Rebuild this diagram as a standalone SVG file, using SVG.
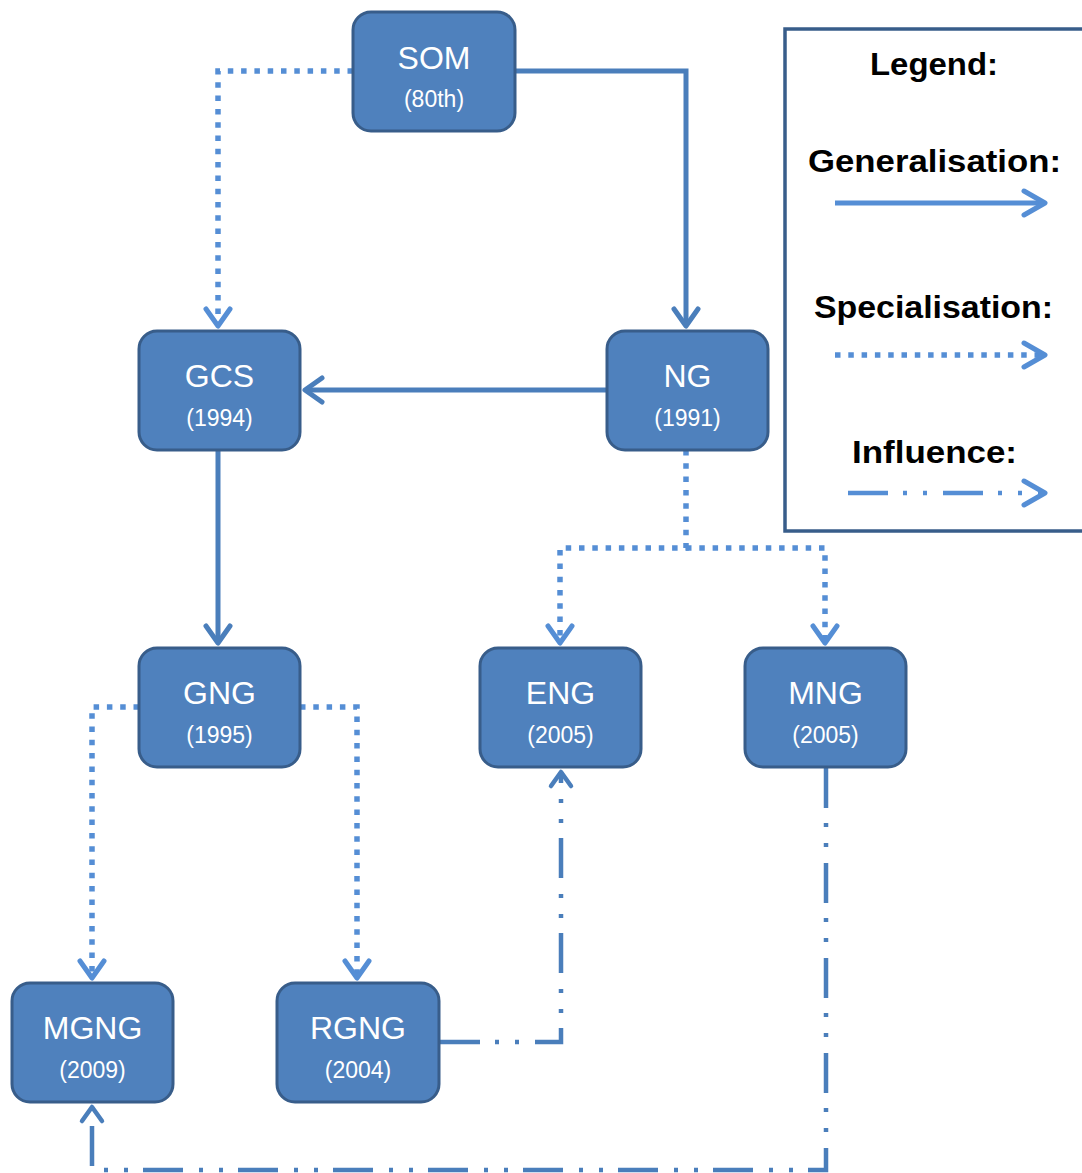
<svg xmlns="http://www.w3.org/2000/svg" width="1082" height="1173" viewBox="0 0 1082 1173">
<style>
.box{fill:#4F81BD;stroke:#385D8A;stroke-width:3}
.t{font-family:"Liberation Sans",Arial,sans-serif;fill:#FFFFFF;text-anchor:middle}
.t1{font-size:32px}
.t2{font-size:23px}
.gen{fill:none;stroke:#4A7EBB;stroke-width:5}
.spe{fill:none;stroke:#558ED5;stroke-width:5.5;stroke-dasharray:5.5 7.8}
.inf{fill:none;stroke:#4A7EBB;stroke-width:4.5;stroke-dasharray:40 15 4 16 4 16}
.lg{font-family:"Liberation Sans",Arial,sans-serif;font-weight:bold;fill:#000000;font-size:31px}
</style>
<defs>
<marker id="aG" viewBox="-24 -16 28 32" refX="0" refY="0" markerWidth="28" markerHeight="32" orient="auto" markerUnits="userSpaceOnUse"><path d="M-17,-12 L0,0 L-17,12" fill="none" stroke="#4A7EBB" stroke-width="5" stroke-linecap="round" stroke-linejoin="round"/></marker>
<marker id="aS" viewBox="-24 -16 28 32" refX="0" refY="0" markerWidth="28" markerHeight="32" orient="auto" markerUnits="userSpaceOnUse"><path d="M-17,-12 L0,0 L-17,12" fill="none" stroke="#558ED5" stroke-width="5" stroke-linecap="round" stroke-linejoin="round"/></marker>
<marker id="aL" viewBox="-24 -16 28 32" refX="0" refY="0" markerWidth="28" markerHeight="32" orient="auto" markerUnits="userSpaceOnUse"><path d="M-21,-12 L0,0 L-21,12" fill="none" stroke="#558ED5" stroke-width="5" stroke-linecap="round" stroke-linejoin="round"/></marker>
<marker id="aI" viewBox="-24 -16 28 32" refX="0" refY="0" markerWidth="28" markerHeight="32" orient="auto" markerUnits="userSpaceOnUse"><path d="M-14,-10 L0,0 L-14,10" fill="none" stroke="#4A7EBB" stroke-width="4.5" stroke-linecap="round" stroke-linejoin="round"/></marker>
</defs>
<rect width="1082" height="1173" fill="#FFFFFF"/>

<g id="connectors">
<path class="spe" d="M353,71 L218,71 L218,326" marker-end="url(#aS)"/>
<path class="gen" d="M515,71 L686,71 L686,326" marker-end="url(#aG)"/>
<path class="gen" d="M607,390 L305,390" marker-end="url(#aG)"/>
<path class="gen" d="M218,450 L218,643" marker-end="url(#aG)"/>
<path class="spe" d="M686,450 L686,548 L560,548 L560,643" marker-end="url(#aS)"/>
<path class="spe" d="M686,548 L825,548 L825,643" marker-end="url(#aS)"/>
<path class="spe" d="M139,707 L92,707 L92,978" marker-end="url(#aS)"/>
<path class="spe" d="M300,707 L357,707 L357,978" marker-end="url(#aS)"/>
<path class="inf" d="M440,1042 L561,1042 L561,772" marker-end="url(#aI)"/>
<path class="inf" d="M826,768 L826,1170 L92,1170 L92,1107" marker-end="url(#aI)"/>
</g>

<g id="node-SOM"><rect class="box" x="353" y="12" width="162" height="119" rx="18"/><text class="t t1" x="434" y="69">SOM</text><text class="t t2" x="434" y="107">(80th)</text></g>
<g id="node-GCS"><rect class="box" x="139" y="331" width="161" height="119" rx="18"/><text class="t t1" x="219.5" y="387">GCS</text><text class="t t2" x="219.5" y="426">(1994)</text></g>
<g id="node-NG"><rect class="box" x="607" y="331" width="161" height="119" rx="18"/><text class="t t1" x="687.5" y="387">NG</text><text class="t t2" x="687.5" y="426">(1991)</text></g>
<g id="node-GNG"><rect class="box" x="139" y="648" width="161" height="119" rx="18"/><text class="t t1" x="219.5" y="704">GNG</text><text class="t t2" x="219.5" y="743">(1995)</text></g>
<g id="node-ENG"><rect class="box" x="480" y="648" width="161" height="119" rx="18"/><text class="t t1" x="560.5" y="704">ENG</text><text class="t t2" x="560.5" y="743">(2005)</text></g>
<g id="node-MNG"><rect class="box" x="745" y="648" width="161" height="119" rx="18"/><text class="t t1" x="825.5" y="704">MNG</text><text class="t t2" x="825.5" y="743">(2005)</text></g>
<g id="node-MGNG"><rect class="box" x="12" y="983" width="161" height="119" rx="18"/><text class="t t1" x="92.5" y="1039">MGNG</text><text class="t t2" x="92.5" y="1078">(2009)</text></g>
<g id="node-RGNG"><rect class="box" x="277" y="983" width="162" height="119" rx="18"/><text class="t t1" x="358" y="1039">RGNG</text><text class="t t2" x="358" y="1078">(2004)</text></g>

<g id="legend">
<rect x="785" y="29" width="310" height="502" fill="#FFFFFF" stroke="#385D8A" stroke-width="3.5"/>
<text class="lg" x="870" y="75" textLength="128" lengthAdjust="spacingAndGlyphs">Legend:</text>
<text class="lg" x="808" y="172" textLength="253" lengthAdjust="spacingAndGlyphs">Generalisation:</text>
<line x1="835" y1="203" x2="1045" y2="203" stroke="#558ED5" stroke-width="5" marker-end="url(#aL)"/>
<text class="lg" x="814" y="318" textLength="239" lengthAdjust="spacingAndGlyphs">Specialisation:</text>
<line x1="835" y1="355" x2="1045" y2="355" stroke="#558ED5" stroke-width="5.5" stroke-dasharray="5.5 7.8" marker-end="url(#aL)"/>
<text class="lg" x="852" y="463" textLength="165" lengthAdjust="spacingAndGlyphs">Influence:</text>
<line x1="848" y1="493" x2="1045" y2="493" stroke="#558ED5" stroke-width="4.5" stroke-dasharray="40 15 4 16 4 16" marker-end="url(#aL)"/>
</g>
</svg>
